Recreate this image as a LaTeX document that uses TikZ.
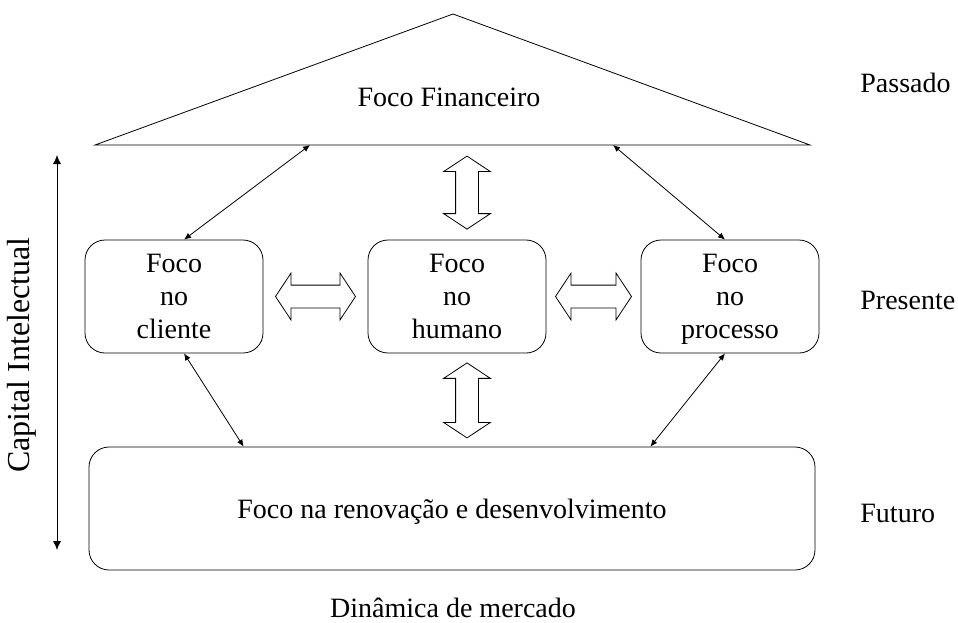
\documentclass[tikz,border=0pt]{standalone}
\usepackage{fontspec}
\setmainfont{Liberation Serif}
\usetikzlibrary{shapes.arrows,calc,arrows.meta}

\begin{document}
\begin{tikzpicture}[x=0.5pt,y=-0.5pt,font=\fontsize{14}{16.5}\selectfont,
    box/.style={draw,rounded corners=10pt,align=center,text depth=0pt,minimum width=89pt,minimum height=56.5pt},
    link/.style={{Latex[length=3.5pt,width=3pt]}-{Latex[length=3.5pt,width=3pt]},thin},
    hollow/.style={double arrow,draw,fill=white,inner xsep=0pt,inner ysep=5.5pt,minimum width=23pt,
      double arrow head extend=6pt,double arrow tip angle=113,minimum height=40pt}]
    \useasboundingbox (0,0) rectangle (958,622);
    % triangle
    \coordinate (fl) at (95,145);
    \coordinate (ft) at (453,14);
    \coordinate (fr) at (810,145);
    \draw (fl) -- (ft) -- (fr) -- cycle;
    \node (fin) at (449,97) {Foco Financeiro};
    \coordinate (fa) at (310,145);
    \coordinate (fb) at (613,145);
    % boxes
    \node[box] (cliente) at (174,296.5) {Foco\\no\\cliente};
    \node[box] (humano) at (457,296.5) {Foco\\no\\humano};
    \node[box] (processo) at (730,296.5) {Foco\\no\\processo};
    \node[box,minimum width=363pt,minimum height=61.5pt] (renov) at (452,508.5) {Foco na renova\c{c}\~ao e desenvolvimento};
    % links
    \draw[link] (fa) -- (cliente.80);
    \draw[link] (fb) -- (processo.95);
    \draw[link] (cliente.-80) -- ($(renov.north west)+(155,0)$);
    \draw[link] (processo.-95) -- ($(renov.north east)+(-165,0)$);
    \node[hollow] (h1) at ($(cliente.east)!0.5!(humano.west)$) {};
    \node[hollow,minimum height=38pt] (h2) at ($(humano.east)!0.5!(processo.west)$) {};
    \node[hollow,rotate=90,minimum height=36.5pt] (v1) at ($(humano.north)+(10,-47)$) {};
    \node[hollow,rotate=90,minimum height=37.5pt] (v2) at ($(humano.south)+(10,47)$) {};
    % time axis
    \coordinate (ct) at (57,155);
    \coordinate (cb) at (57,550);
    \draw[{Latex[length=4.5pt,width=4pt]}-{Latex[length=4.5pt,width=4pt]}] (ct) -- (cb);
    \node[rotate=90,font=\fontsize{16}{19}\selectfont] (cap) at (22,355) {Capital Intelectual};
    \node[anchor=west,inner sep=0pt] (pas) at (860,83) {Passado};
    \node[anchor=west,inner sep=0pt] (pre) at (860,300) {Presente};
    \node[anchor=west,inner sep=0pt] (fut) at (860,513) {Futuro};
    \node (din) at (453,608) {Din\^amica de mercado};
\end{tikzpicture}
\end{document}
